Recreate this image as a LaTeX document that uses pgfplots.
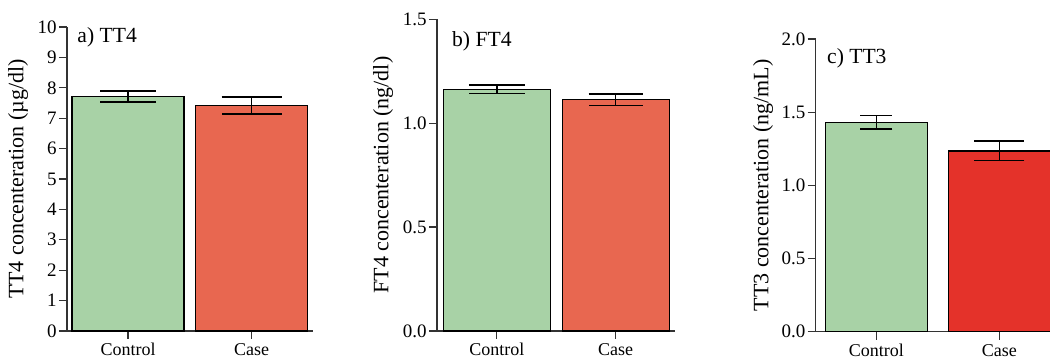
\documentclass[border=0pt]{standalone}
\usepackage{fontspec}
\setmainfont{Liberation Serif}
\usepackage{pgfplots}
\pgfplotsset{compat=1.18}
\definecolor{cgreen}{HTML}{A8D2A6}
\definecolor{cred}{HTML}{E86750}
\definecolor{cred2}{HTML}{E4322A}
\definecolor{axgray}{HTML}{333333}
\tikzset{ttl/.style={anchor=base west, font=\fontsize{10.8}{12}\selectfont, inner sep=0pt}}
\pgfplotsset{
  panel/.style={
    scale only axis,
    anchor=south west,
    axis lines*=left,
    axis line style={axgray, line width=0.75pt},
    ybar, bar shift=0pt,
    ymin=0,
    xtick={0,1}, xticklabels={Control,Case},
    tick style={axgray, line width=0.65pt},
    tick align=outside,
    major tick length=4pt,
    /pgf/number format/assume math mode=true,
    yticklabel style={font=\fontsize{9.5}{10}\selectfont, inner sep=1pt},
    xticklabel style={font=\fontsize{9}{10}\selectfont, inner sep=2pt},
    ylabel style={font=\fontsize{11}{12}\selectfont, at={(axis description cs:0,0.5)}, anchor=center},
    clip=false,
    error bars/y dir=both,
    error bars/y explicit,
    error bars/error bar style={line width=0.8pt, black},
  },
}
\begin{document}
\begin{tikzpicture}
\useasboundingbox (0,0) rectangle (525pt,181pt);
% a) TT4
\begin{axis}[panel, at={(33.5pt,15.5pt)}, width=123pt, height=152pt,
  xmin=-0.494, xmax=1.498, ymax=10, ytick={0,1,...,10}, bar width=0.907,
  ylabel={TT4 concenteration (µg/dl)}, ylabel style={yshift=24.5pt}]
\addplot[fill=cgreen, draw=black, line width=0.6pt,
  error bars/error mark options={rotate=90, mark size=14pt, line width=0.8pt}]
  coordinates {(0,7.71) +- (0,0.18)};
\addplot[fill=cred, draw=black, line width=0.6pt,
  error bars/error mark options={rotate=90, mark size=15pt, line width=0.8pt}]
  coordinates {(1,7.41) +- (0,0.28)};
\node[ttl] at (rel axis cs:0.041,0.948) {a) TT4};
\end{axis}
% b) FT4
\begin{axis}[panel, at={(218.5pt,15.5pt)}, width=119pt, height=155.85pt,
  xmin=-0.503, xmax=1.499, ymax=1.5, ytick={0,0.5,1,1.5}, bar width=0.9,
  yticklabel style={/pgf/number format/.cd, fixed, fixed zerofill, precision=1},
  ylabel={FT4 concenteration (ng/dl)}, ylabel style={yshift=27pt}]
\addplot[fill=cgreen, draw=black, line width=0.6pt,
  error bars/error mark options={rotate=90, mark size=14pt, line width=0.8pt}]
  coordinates {(0,1.163) +- (0,0.021)};
\addplot[fill=cred, draw=black, line width=0.6pt,
  error bars/error mark options={rotate=90, mark size=13.5pt, line width=0.8pt}]
  coordinates {(1,1.113) +- (0,0.027)};
\node[ttl] at (rel axis cs:0.062,0.914) {b) FT4};
\end{axis}
% c) TT3
\begin{axis}[panel, at={(407.85pt,15.15pt)}, width=117.65pt, height=146.35pt,
  xmin=-0.494, xmax=1.419, ymax=2, ytick={0,0.5,1,1.5,2}, bar width=0.833,
  yticklabel style={/pgf/number format/.cd, fixed, fixed zerofill, precision=1},
  ylabel={TT3 concenteration (ng/mL)}, ylabel style={yshift=26.3pt}]
\addplot[fill=cgreen, draw=black, line width=0.6pt,
  error bars/error mark options={rotate=90, mark size=8pt, line width=0.8pt}]
  coordinates {(0,1.431) +- (0,0.045)};
\addplot[fill=cred2, draw=black, line width=0.6pt,
  error bars/error mark options={rotate=90, mark size=12.5pt, line width=0.8pt}]
  coordinates {(1,1.235) +- (0,0.066)};
\node[ttl] at (rel axis cs:0.047,0.917) {c) TT3};
\end{axis}
\end{tikzpicture}
\end{document}
